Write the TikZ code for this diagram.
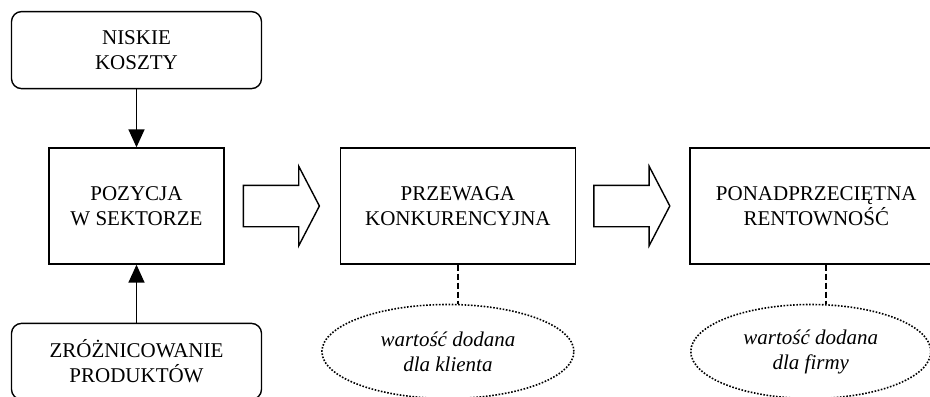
\documentclass[tikz,border=0pt]{standalone}
\usepackage{fontspec}
\setmainfont{Liberation Serif}
\usepackage{tikz}
\usetikzlibrary{
  arrows.meta,
  positioning,
  shapes.geometric,
  shapes.arrows,
  calc
}
\tikzset{
  sourcebox/.style={draw, rounded corners=5pt, line width=0.7pt,
    minimum width=125pt, minimum height=38.5pt,
    align=center, font=\fontsize{10.5}{12.5}\selectfont},
  stagebox/.style={draw, line width=0.7pt,
    minimum height=58pt,
    align=center, font=\fontsize{10.5}{12.5}\selectfont},
  valueell/.style={draw, ellipse, line width=0.8pt,
    dash pattern=on 0.8pt off 0.8pt,
    minimum height=47pt, inner sep=0pt,
    align=center, font=\fontsize{10.5}{12.5}\selectfont\itshape},
  bigarr/.style={draw, single arrow, line width=0.7pt,
    minimum height=38pt, inner xsep=0pt, inner ysep=10pt,
    single arrow head extend=9.5pt, single arrow tip angle=125},
  arr/.style={-{Triangle[length=9pt, width=8pt]}, line width=0.8pt},
  darr/.style={line width=0.7pt, dash pattern=on 3pt off 1.5pt},
}

\begin{document}
\begin{tikzpicture}[x=0.5pt, y=-0.5pt]
  \useasboundingbox (0,0) rectangle (930,396);

  % Position in sector and its sources
  \node[stagebox, minimum width=87.5pt] (pozycja) at (136.5,206)
    {POZYCJA\\W SEKTORZE};
  \node[sourcebox, above=29pt of pozycja] (koszty) {NISKIE\\KOSZTY};
  \node[sourcebox, below=29pt of pozycja, minimum height=38pt] (zroz)
    {ZRÓŻNICOWANIE\\PRODUKTÓW};

  \draw[arr] (koszty) -- (pozycja);
  \draw[arr] (zroz) -- (pozycja);

  % Chain of results
  \node[stagebox, minimum width=117.5pt, right=57.5pt of pozycja] (przewaga)
    {PRZEWAGA\\KONKURENCYJNA};
  \node[stagebox, minimum width=126.5pt, right=56.5pt of przewaga] (ponad)
    {PONADPRZECIĘTNA\\RENTOWNOŚĆ};

  \node[bigarr, right=9pt of pozycja] (arr1) {};
  \node[bigarr, right=8.5pt of przewaga] (arr2) {};

  % Added value
  \node[valueell, minimum width=126pt, below=19.5pt of przewaga,
        xshift=-5pt] (klient) {wartość dodana\\dla klienta};
  \node[valueell, minimum width=120pt, below=19.5pt of ponad,
        xshift=-2.75pt] (firma) {wartość dodana\\dla firmy};

  \coordinate (ponadlink) at ($(ponad.south)+(9.5,0)$);
  \draw[darr] (przewaga.south) -- (przewaga.south |- klient.north);
  \draw[darr] (ponadlink) -- (ponadlink |- firma.north);
\end{tikzpicture}
\end{document}
